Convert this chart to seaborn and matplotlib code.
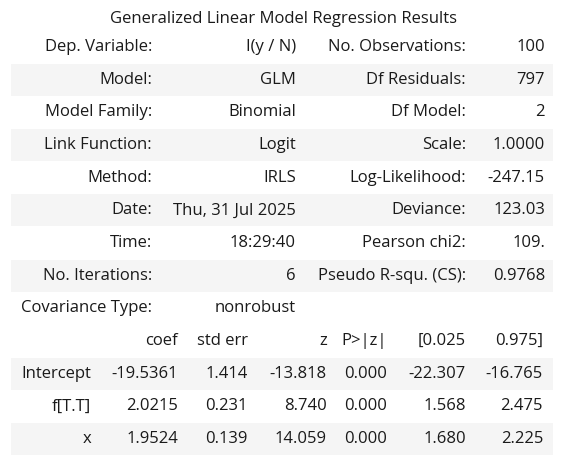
import matplotlib
matplotlib.use("Agg")
import matplotlib.pyplot as plt
import seaborn as sns

title = "Generalized Linear Model Regression Results"
left_labels = ["Dep. Variable:", "Model:", "Model Family:", "Link Function:", "Method:",
               "Date:", "Time:", "No. Iterations:", "Covariance Type:"]
left_values = ["I(y / N)", "GLM", "Binomial", "Logit", "IRLS",
               "Thu, 31 Jul 2025", "18:29:40", "6", "nonrobust"]
right_labels = ["No. Observations:", "Df Residuals:", "Df Model:", "Scale:", "Log-Likelihood:",
                "Deviance:", "Pearson chi2:", "Pseudo R-squ. (CS):", ""]
right_values = ["100", "797", "2", "1.0000", "-247.15", "123.03", "109.", "0.9768", ""]

coef_header = ["", "coef", "std err", "z", "P>|z|", "[0.025", "0.975]"]
terms = ["Intercept", "f[T.T]", "x"]
coef = ["-19.5361", "2.0215", "1.9524"]
std_err = ["1.414", "0.231", "0.139"]
zval = ["-13.818", "8.740", "14.059"]
pval = ["0.000", "0.000", "0.000"]
ci_low = ["-22.307", "1.568", "1.680"]
ci_high = ["-16.765", "2.475", "2.225"]

sns.set_theme(style="white")
plt.rcParams['font.family'] = ['Open Sans', 'DejaVu Sans']

W, H = 566, 470
fig = plt.figure(figsize=(W / 100, H / 100), dpi=100)
ax = fig.add_axes([0, 0, 1, 1])
ax.set_xlim(0, W)
ax.set_ylim(H, 0)
ax.axis("off")

fs = 12.0
y0, dy = 47.0, 32.67
shade = "#f5f5f5"
tc = "#1a1a1a"
band_left, band_right = 11, 553

def row_y(i):
    return y0 + dy * i

# title
ax.text(W / 2, 19, title, ha="center", va="center", fontsize=fs, color=tc)

# top section
top_cols = [152, 296, 466, 545]
for i in range(len(left_labels)):
    y = row_y(i)
    if i % 2 == 1:
        ax.axhspan(y - 16, y + 16, xmin=band_left / W, xmax=band_right / W,
                   color=shade, lw=0, zorder=0)
    for x, txt in zip(top_cols, [left_labels[i], left_values[i], right_labels[i], right_values[i]]):
        ax.text(x, y, txt, ha="right", va="center", fontsize=fs, color=tc)

# coefficient section
coef_cols = [91, 178, 248, 327, 387, 466, 543]
start = len(left_labels)
y = row_y(start)
for x, txt in zip(coef_cols, coef_header):
    ax.text(x, y, txt, ha="right", va="center", fontsize=fs, color=tc)
for j, term in enumerate(terms):
    y = row_y(start + 1 + j)
    if j % 2 == 0:
        ax.axhspan(y - 16, y + 16, xmin=band_left / W, xmax=band_right / W,
                   color=shade, lw=0, zorder=0)
    vals = [term, coef[j], std_err[j], zval[j], pval[j], ci_low[j], ci_high[j]]
    for x, txt in zip(coef_cols, vals):
        ax.text(x, y, txt, ha="right", va="center", fontsize=fs, color=tc)

fig.savefig("out.png", dpi=100, facecolor="white")
